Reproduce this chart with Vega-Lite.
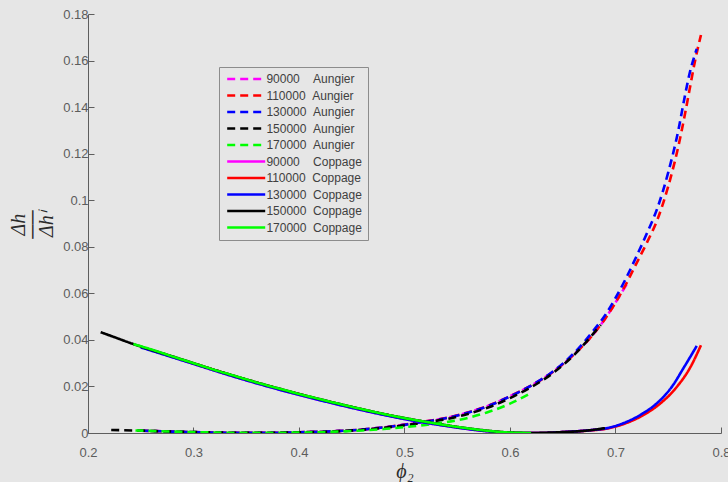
{
  "$schema": "https://vega.github.io/schema/vega-lite/v6.json",
  "autosize": {"type": "none"},
  "padding": {"left": 88, "top": 14, "right": 7, "bottom": 49},
  "width": 633,
  "height": 419,
  "background": "#e6e6e6",
  "config": {
    "view": {"stroke": null, "fill": "#e6e6e6"},
    "axis": {
      "grid": false,
      "labelFlush": false,
      "domainColor": "#5e5e5e",
      "tickColor": "#5e5e5e",
      "tickSize": -6,
      "domainWidth": 1,
      "tickWidth": 1,
      "labelColor": "#5c5c5c",
      "labelFont": "Liberation Sans",
      "labelFontSize": 13,
      "titleFont": "Liberation Serif",
      "titleFontStyle": "italic",
      "titleFontWeight": "normal",
      "titleFontSize": 20,
      "titleColor": "#2b2b2b"
    }
  },
  "data": {
    "values": [
      {"s": "90000 Aungier", "x": 0.26, "y": 0.0009},
      {"s": "90000 Aungier", "x": 0.28, "y": 0.0006},
      {"s": "90000 Aungier", "x": 0.31, "y": 0.0003},
      {"s": "90000 Aungier", "x": 0.34, "y": 0.0001},
      {"s": "90000 Aungier", "x": 0.37, "y": 0.0001},
      {"s": "90000 Aungier", "x": 0.40, "y": 0.0003},
      {"s": "90000 Aungier", "x": 0.43, "y": 0.0007},
      {"s": "90000 Aungier", "x": 0.46, "y": 0.0015},
      {"s": "90000 Aungier", "x": 0.48, "y": 0.0024},
      {"s": "90000 Aungier", "x": 0.50, "y": 0.0036},
      {"s": "90000 Aungier", "x": 0.52, "y": 0.0050},
      {"s": "90000 Aungier", "x": 0.54, "y": 0.0065},
      {"s": "90000 Aungier", "x": 0.56, "y": 0.0088},
      {"s": "90000 Aungier", "x": 0.58, "y": 0.0118},
      {"s": "90000 Aungier", "x": 0.60, "y": 0.0158},
      {"s": "90000 Aungier", "x": 0.62, "y": 0.0204},
      {"s": "90000 Aungier", "x": 0.64, "y": 0.0260},
      {"s": "90000 Aungier", "x": 0.66, "y": 0.0335},
      {"s": "90000 Aungier", "x": 0.68, "y": 0.0430},
      {"s": "90000 Aungier", "x": 0.69, "y": 0.0490},
      {"s": "90000 Aungier", "x": 0.70, "y": 0.0560},
      {"s": "90000 Aungier", "x": 0.712, "y": 0.0650},

      {"s": "110000 Aungier", "x": 0.25, "y": 0.0010},
      {"s": "110000 Aungier", "x": 0.28, "y": 0.0006},
      {"s": "110000 Aungier", "x": 0.31, "y": 0.0003},
      {"s": "110000 Aungier", "x": 0.34, "y": 0.0001},
      {"s": "110000 Aungier", "x": 0.37, "y": 0.0001},
      {"s": "110000 Aungier", "x": 0.40, "y": 0.0003},
      {"s": "110000 Aungier", "x": 0.43, "y": 0.0007},
      {"s": "110000 Aungier", "x": 0.46, "y": 0.0015},
      {"s": "110000 Aungier", "x": 0.48, "y": 0.0024},
      {"s": "110000 Aungier", "x": 0.50, "y": 0.0036},
      {"s": "110000 Aungier", "x": 0.52, "y": 0.0050},
      {"s": "110000 Aungier", "x": 0.54, "y": 0.0065},
      {"s": "110000 Aungier", "x": 0.56, "y": 0.0088},
      {"s": "110000 Aungier", "x": 0.58, "y": 0.0118},
      {"s": "110000 Aungier", "x": 0.60, "y": 0.0158},
      {"s": "110000 Aungier", "x": 0.62, "y": 0.0204},
      {"s": "110000 Aungier", "x": 0.64, "y": 0.0260},
      {"s": "110000 Aungier", "x": 0.66, "y": 0.0335},
      {"s": "110000 Aungier", "x": 0.68, "y": 0.0430},
      {"s": "110000 Aungier", "x": 0.69, "y": 0.0490},
      {"s": "110000 Aungier", "x": 0.70, "y": 0.0560},
      {"s": "110000 Aungier", "x": 0.71, "y": 0.0640},
      {"s": "110000 Aungier", "x": 0.72, "y": 0.0730},
      {"s": "110000 Aungier", "x": 0.73, "y": 0.0820},
      {"s": "110000 Aungier", "x": 0.74, "y": 0.0920},
      {"s": "110000 Aungier", "x": 0.75, "y": 0.1060},
      {"s": "110000 Aungier", "x": 0.76, "y": 0.1240},
      {"s": "110000 Aungier", "x": 0.765, "y": 0.1350},
      {"s": "110000 Aungier", "x": 0.77, "y": 0.1470},
      {"s": "110000 Aungier", "x": 0.775, "y": 0.1590},
      {"s": "110000 Aungier", "x": 0.781, "y": 0.1710},

      {"s": "130000 Aungier", "x": 0.25, "y": 0.0010},
      {"s": "130000 Aungier", "x": 0.28, "y": 0.0006},
      {"s": "130000 Aungier", "x": 0.31, "y": 0.0003},
      {"s": "130000 Aungier", "x": 0.34, "y": 0.0001},
      {"s": "130000 Aungier", "x": 0.37, "y": 0.0001},
      {"s": "130000 Aungier", "x": 0.40, "y": 0.0003},
      {"s": "130000 Aungier", "x": 0.43, "y": 0.0007},
      {"s": "130000 Aungier", "x": 0.46, "y": 0.0015},
      {"s": "130000 Aungier", "x": 0.48, "y": 0.0024},
      {"s": "130000 Aungier", "x": 0.50, "y": 0.0035},
      {"s": "130000 Aungier", "x": 0.52, "y": 0.0049},
      {"s": "130000 Aungier", "x": 0.54, "y": 0.0064},
      {"s": "130000 Aungier", "x": 0.56, "y": 0.0087},
      {"s": "130000 Aungier", "x": 0.58, "y": 0.0117},
      {"s": "130000 Aungier", "x": 0.60, "y": 0.0157},
      {"s": "130000 Aungier", "x": 0.62, "y": 0.0204},
      {"s": "130000 Aungier", "x": 0.64, "y": 0.0262},
      {"s": "130000 Aungier", "x": 0.66, "y": 0.0340},
      {"s": "130000 Aungier", "x": 0.68, "y": 0.0445},
      {"s": "130000 Aungier", "x": 0.69, "y": 0.0505},
      {"s": "130000 Aungier", "x": 0.70, "y": 0.0580},
      {"s": "130000 Aungier", "x": 0.71, "y": 0.0665},
      {"s": "130000 Aungier", "x": 0.72, "y": 0.0760},
      {"s": "130000 Aungier", "x": 0.73, "y": 0.0860},
      {"s": "130000 Aungier", "x": 0.74, "y": 0.0970},
      {"s": "130000 Aungier", "x": 0.75, "y": 0.1120},
      {"s": "130000 Aungier", "x": 0.76, "y": 0.1310},
      {"s": "130000 Aungier", "x": 0.765, "y": 0.1430},
      {"s": "130000 Aungier", "x": 0.77, "y": 0.1540},
      {"s": "130000 Aungier", "x": 0.777, "y": 0.1650},

      {"s": "150000 Aungier", "x": 0.222, "y": 0.0013},
      {"s": "150000 Aungier", "x": 0.25, "y": 0.0010},
      {"s": "150000 Aungier", "x": 0.28, "y": 0.0006},
      {"s": "150000 Aungier", "x": 0.31, "y": 0.0003},
      {"s": "150000 Aungier", "x": 0.34, "y": 0.0001},
      {"s": "150000 Aungier", "x": 0.37, "y": 0.0001},
      {"s": "150000 Aungier", "x": 0.40, "y": 0.0003},
      {"s": "150000 Aungier", "x": 0.43, "y": 0.0006},
      {"s": "150000 Aungier", "x": 0.46, "y": 0.0014},
      {"s": "150000 Aungier", "x": 0.48, "y": 0.0022},
      {"s": "150000 Aungier", "x": 0.50, "y": 0.0033},
      {"s": "150000 Aungier", "x": 0.52, "y": 0.0046},
      {"s": "150000 Aungier", "x": 0.54, "y": 0.0060},
      {"s": "150000 Aungier", "x": 0.56, "y": 0.0082},
      {"s": "150000 Aungier", "x": 0.58, "y": 0.0111},
      {"s": "150000 Aungier", "x": 0.60, "y": 0.0150},
      {"s": "150000 Aungier", "x": 0.62, "y": 0.0197},
      {"s": "150000 Aungier", "x": 0.64, "y": 0.0255},
      {"s": "150000 Aungier", "x": 0.66, "y": 0.0332},
      {"s": "150000 Aungier", "x": 0.686, "y": 0.0465},

      {"s": "170000 Aungier", "x": 0.245, "y": 0.0011},
      {"s": "170000 Aungier", "x": 0.28, "y": 0.0006},
      {"s": "170000 Aungier", "x": 0.31, "y": 0.0003},
      {"s": "170000 Aungier", "x": 0.34, "y": 0.0001},
      {"s": "170000 Aungier", "x": 0.37, "y": 0.0001},
      {"s": "170000 Aungier", "x": 0.40, "y": 0.0002},
      {"s": "170000 Aungier", "x": 0.43, "y": 0.0005},
      {"s": "170000 Aungier", "x": 0.46, "y": 0.0011},
      {"s": "170000 Aungier", "x": 0.48, "y": 0.0017},
      {"s": "170000 Aungier", "x": 0.50, "y": 0.0025},
      {"s": "170000 Aungier", "x": 0.52, "y": 0.0035},
      {"s": "170000 Aungier", "x": 0.54, "y": 0.0047},
      {"s": "170000 Aungier", "x": 0.56, "y": 0.0065},
      {"s": "170000 Aungier", "x": 0.58, "y": 0.0091},
      {"s": "170000 Aungier", "x": 0.60, "y": 0.0126},
      {"s": "170000 Aungier", "x": 0.62, "y": 0.0172},

      {"s": "90000 Coppage", "x": 0.26, "y": 0.0357},
      {"s": "90000 Coppage", "x": 0.30, "y": 0.0297},
      {"s": "90000 Coppage", "x": 0.34, "y": 0.0240},
      {"s": "90000 Coppage", "x": 0.38, "y": 0.0188},
      {"s": "90000 Coppage", "x": 0.42, "y": 0.0141},
      {"s": "90000 Coppage", "x": 0.46, "y": 0.0098},
      {"s": "90000 Coppage", "x": 0.50, "y": 0.0060},
      {"s": "90000 Coppage", "x": 0.54, "y": 0.0030},
      {"s": "90000 Coppage", "x": 0.58, "y": 0.0007},
      {"s": "90000 Coppage", "x": 0.61, "y": 0.0},
      {"s": "90000 Coppage", "x": 0.63, "y": 0.0},
      {"s": "90000 Coppage", "x": 0.65, "y": 0.0004},
      {"s": "90000 Coppage", "x": 0.676, "y": 0.0012},
      {"s": "90000 Coppage", "x": 0.692, "y": 0.0020},
      {"s": "90000 Coppage", "x": 0.708, "y": 0.0041},
      {"s": "90000 Coppage", "x": 0.724, "y": 0.0075},

      {"s": "110000 Coppage", "x": 0.25, "y": 0.0370},
      {"s": "110000 Coppage", "x": 0.30, "y": 0.0299},
      {"s": "110000 Coppage", "x": 0.34, "y": 0.0243},
      {"s": "110000 Coppage", "x": 0.38, "y": 0.0191},
      {"s": "110000 Coppage", "x": 0.42, "y": 0.0144},
      {"s": "110000 Coppage", "x": 0.46, "y": 0.0101},
      {"s": "110000 Coppage", "x": 0.50, "y": 0.0063},
      {"s": "110000 Coppage", "x": 0.54, "y": 0.0032},
      {"s": "110000 Coppage", "x": 0.58, "y": 0.0008},
      {"s": "110000 Coppage", "x": 0.61, "y": 0.0},
      {"s": "110000 Coppage", "x": 0.63, "y": 0.0},
      {"s": "110000 Coppage", "x": 0.65, "y": 0.0004},
      {"s": "110000 Coppage", "x": 0.676, "y": 0.0011},
      {"s": "110000 Coppage", "x": 0.692, "y": 0.0019},
      {"s": "110000 Coppage", "x": 0.708, "y": 0.0039},
      {"s": "110000 Coppage", "x": 0.724, "y": 0.0071},
      {"s": "110000 Coppage", "x": 0.74, "y": 0.0118},
      {"s": "110000 Coppage", "x": 0.757, "y": 0.0192},
      {"s": "110000 Coppage", "x": 0.771, "y": 0.0283},
      {"s": "110000 Coppage", "x": 0.781, "y": 0.0377},

      {"s": "130000 Coppage", "x": 0.25, "y": 0.0368},
      {"s": "130000 Coppage", "x": 0.30, "y": 0.0297},
      {"s": "130000 Coppage", "x": 0.34, "y": 0.0240},
      {"s": "130000 Coppage", "x": 0.38, "y": 0.0188},
      {"s": "130000 Coppage", "x": 0.42, "y": 0.0141},
      {"s": "130000 Coppage", "x": 0.46, "y": 0.0098},
      {"s": "130000 Coppage", "x": 0.50, "y": 0.0060},
      {"s": "130000 Coppage", "x": 0.54, "y": 0.0030},
      {"s": "130000 Coppage", "x": 0.58, "y": 0.0007},
      {"s": "130000 Coppage", "x": 0.61, "y": 0.0},
      {"s": "130000 Coppage", "x": 0.63, "y": 0.0},
      {"s": "130000 Coppage", "x": 0.65, "y": 0.0004},
      {"s": "130000 Coppage", "x": 0.676, "y": 0.0012},
      {"s": "130000 Coppage", "x": 0.692, "y": 0.0021},
      {"s": "130000 Coppage", "x": 0.708, "y": 0.0043},
      {"s": "130000 Coppage", "x": 0.724, "y": 0.0079},
      {"s": "130000 Coppage", "x": 0.74, "y": 0.0131},
      {"s": "130000 Coppage", "x": 0.753, "y": 0.0196},
      {"s": "130000 Coppage", "x": 0.765, "y": 0.0283},
      {"s": "130000 Coppage", "x": 0.777, "y": 0.0374},

      {"s": "150000 Coppage", "x": 0.212, "y": 0.0433},
      {"s": "150000 Coppage", "x": 0.22, "y": 0.0420},
      {"s": "150000 Coppage", "x": 0.243, "y": 0.0382},
      {"s": "150000 Coppage", "x": 0.28, "y": 0.0329},
      {"s": "150000 Coppage", "x": 0.32, "y": 0.0271},
      {"s": "150000 Coppage", "x": 0.36, "y": 0.0217},
      {"s": "150000 Coppage", "x": 0.40, "y": 0.0168},
      {"s": "150000 Coppage", "x": 0.44, "y": 0.0123},
      {"s": "150000 Coppage", "x": 0.48, "y": 0.0082},
      {"s": "150000 Coppage", "x": 0.52, "y": 0.0048},
      {"s": "150000 Coppage", "x": 0.56, "y": 0.0020},
      {"s": "150000 Coppage", "x": 0.60, "y": 0.0002},
      {"s": "150000 Coppage", "x": 0.62, "y": 0.0},
      {"s": "150000 Coppage", "x": 0.64, "y": 0.0002},
      {"s": "150000 Coppage", "x": 0.66, "y": 0.0006},
      {"s": "150000 Coppage", "x": 0.676, "y": 0.0012},
      {"s": "150000 Coppage", "x": 0.69, "y": 0.0021},

      {"s": "170000 Coppage", "x": 0.243, "y": 0.0382},
      {"s": "170000 Coppage", "x": 0.26, "y": 0.0359},
      {"s": "170000 Coppage", "x": 0.28, "y": 0.0329},
      {"s": "170000 Coppage", "x": 0.30, "y": 0.0300},
      {"s": "170000 Coppage", "x": 0.32, "y": 0.0271},
      {"s": "170000 Coppage", "x": 0.34, "y": 0.0244},
      {"s": "170000 Coppage", "x": 0.36, "y": 0.0217},
      {"s": "170000 Coppage", "x": 0.38, "y": 0.0192},
      {"s": "170000 Coppage", "x": 0.40, "y": 0.0168},
      {"s": "170000 Coppage", "x": 0.42, "y": 0.0145},
      {"s": "170000 Coppage", "x": 0.44, "y": 0.0123},
      {"s": "170000 Coppage", "x": 0.46, "y": 0.0102},
      {"s": "170000 Coppage", "x": 0.48, "y": 0.0082},
      {"s": "170000 Coppage", "x": 0.50, "y": 0.0064},
      {"s": "170000 Coppage", "x": 0.52, "y": 0.0048},
      {"s": "170000 Coppage", "x": 0.54, "y": 0.0033},
      {"s": "170000 Coppage", "x": 0.56, "y": 0.0020},
      {"s": "170000 Coppage", "x": 0.58, "y": 0.0009},
      {"s": "170000 Coppage", "x": 0.60, "y": 0.0002},
      {"s": "170000 Coppage", "x": 0.62, "y": 0.0}
    ]
  },
  "mark": {"type": "line", "strokeWidth": 2.6, "interpolate": "monotone", "clip": true},
  "encoding": {
    "x": {
      "field": "x",
      "type": "quantitative",
      "scale": {"domain": [0.2, 0.8], "nice": false, "zero": false},
      "axis": {
        "values": [0.2, 0.3, 0.4, 0.5, 0.6, 0.7, 0.8],
        "format": "~g",
        "labelPadding": 19,
        "title": "ϕ₂",
        "titleY": 44,
        "titleBaseline": "alphabetic"
      }
    },
    "y": {
      "field": "y",
      "type": "quantitative",
      "scale": {"domain": [0, 0.18], "nice": false},
      "axis": {
        "values": [0, 0.02, 0.04, 0.06, 0.08, 0.1, 0.12, 0.14, 0.16, 0.18],
        "format": "~g",
        "labelPadding": 6,
        "title": ["Δh", "──", "Δhⁱ"],
        "titleAngle": -90,
        "titleX": -64,
        "titleY": 210,
        "titleAlign": "center",
        "titleBaseline": "alphabetic",
        "titleLineHeight": 14
      }
    },
    "color": {
      "field": "s",
      "type": "nominal",
      "scale": {
        "domain": ["90000 Aungier", "110000 Aungier", "130000 Aungier", "150000 Aungier", "170000 Aungier", "90000 Coppage", "110000 Coppage", "130000 Coppage", "150000 Coppage", "170000 Coppage"],
        "range": ["#ff00ff", "#ff0000", "#0000ff", "#000000", "#00ff00", "#ff00ff", "#ff0000", "#0000ff", "#000000", "#00ff00"]
      },
      "legend": {
        "orient": "none",
        "legendX": 131,
        "legendY": 53,
        "title": null,
        "padding": 6,
        "fillColor": "#e6e6e6",
        "strokeColor": "#8c8c8c",
        "symbolType": "M-1,0H9",
        "symbolSize": 57.8,
        "symbolStrokeWidth": 2.6,
        "labelFont": "Liberation Sans",
        "labelFontSize": 12,
        "labelColor": "#404040",
        "labelOffset": 29.4,
        "rowPadding": 4.5,
        "labelExpr": "length(split(datum.label, ' ')[0]) == 5 ? replace(datum.label, ' ', '\u00a0\u00a0\u00a0\u00a0') : replace(datum.label, ' ', '\u00a0\u00a0')",
        "encode": {
          "symbols": {
            "update": {
              "strokeDash": {"signal": "indexof(datum.value, 'Aungier') >= 0 ? [6, 10] : [1, 0]"}
            }
          }
        }
      }
    },
    "strokeDash": {
      "field": "s",
      "type": "nominal",
      "scale": {
        "domain": ["90000 Aungier", "110000 Aungier", "130000 Aungier", "150000 Aungier", "170000 Aungier", "90000 Coppage", "110000 Coppage", "130000 Coppage", "150000 Coppage", "170000 Coppage"],
        "range": [[8, 5], [8, 5], [8, 5], [8, 5], [8, 5], [1, 0], [1, 0], [1, 0], [1, 0], [1, 0]]
      }
    }
  }
}
